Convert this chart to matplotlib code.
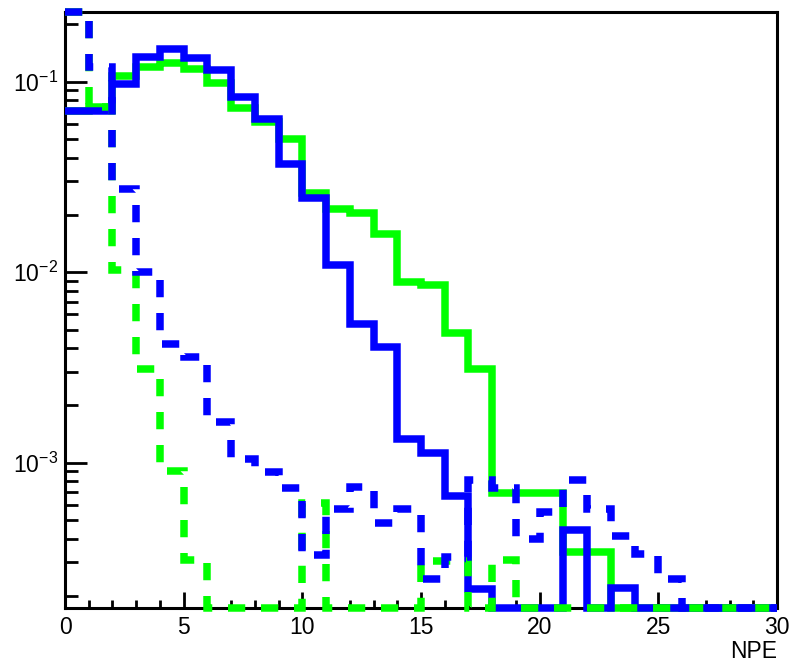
import numpy as np
import matplotlib
matplotlib.use('Agg')
import matplotlib.pyplot as plt
from matplotlib.ticker import LogLocator, MultipleLocator, NullFormatter

# bin edges, 1 NPE per bin
edges = np.arange(0, 31)

# values (0 = empty bin)
green_full = [0.0705, 0.074, 0.107, 0.12, 0.125, 0.117, 0.099, 0.073, 0.0615, 0.0502,
              0.0262, 0.0215, 0.0204, 0.0158, 0.0089, 0.0086, 0.0048, 0.0031, 0.00069, 0.00069,
              0.00069, 0.00034, 0.00034, 0, 0, 0, 0, 0, 0, 0]
blue_full = [0.0705, 0.0705, 0.0976, 0.135, 0.149, 0.134, 0.115, 0.083, 0.064, 0.0372,
             0.0245, 0.0109, 0.00534, 0.00407, 0.00133, 0.00112, 0.000668, 0.000218, 0, 0,
             0, 0.000443, 0, 0.000221, 0, 0, 0, 0, 0, 0]
green_dash = [0.233, 0.074, 0.0103, 0.0031, 0.00091, 0.00031, 0, 0, 0, 0,
              0.000614, 0, 0, 0, 0, 0.000305, 0.000305, 0, 0.00031, 0,
              0, 0, 0, 0, 0, 0, 0, 0, 0, 0]
blue_dash = [0.233, 0.12, 0.0274, 0.0100, 0.0042, 0.00360, 0.00163, 0.00105, 0.000895, 0.000734,
             0.000327, 0.00057, 0.000745, 0.000483, 0.00057, 0.000245, 0.00032, 0.00081, 0.00074, 0.0004,
             0.00055, 0.00081, 0.00057, 0.00041, 0.00033, 0.000245, 0, 0, 0, 0]

YMIN, YMAX = 1.727e-4, 0.2331

plt.rcParams['font.family'] = 'Liberation Sans'
plt.rcParams['mathtext.fontset'] = 'custom'
plt.rcParams['mathtext.rm'] = 'Liberation Sans'
plt.rcParams['mathtext.it'] = 'Liberation Sans:italic'
plt.rcParams['mathtext.bf'] = 'Liberation Sans:bold'

fig = plt.figure(figsize=(7.89, 6.65), dpi=100)
ax = fig.add_axes([0.0824, 0.0857, 0.9024, 0.8967])

lw = 5.4
dash = (0, (2.3, 2.1))
fs = 16.5


def draw(vals, color, ls, z):
    v = np.array(vals, float)
    # empty bins sit on the frame, like ROOT does on a log axis
    v = np.where(v > 0, v, YMIN)
    ax.stairs(v, edges, baseline=None, color=color, linewidth=lw, linestyle=ls,
              joinstyle='miter', clip_on=False, zorder=z)


draw(green_full, '#00ff00', '-', 3)
draw(blue_full, '#0000ff', '-', 4)
draw(green_dash, '#00ff00', dash, 5)
draw(blue_dash, '#0000ff', dash, 6)

ax.set_xlim(0, 30)
ax.set_yscale('log')
ax.set_ylim(YMIN, YMAX)

ax.xaxis.set_major_locator(MultipleLocator(5))
ax.xaxis.set_minor_locator(MultipleLocator(1))
ax.yaxis.set_major_locator(LogLocator(base=10, numticks=10))
ax.yaxis.set_minor_locator(LogLocator(base=10, subs=np.arange(2, 10), numticks=20))
ax.yaxis.set_minor_formatter(NullFormatter())

ax.tick_params(axis='both', which='both', direction='in', top=False, right=False,
               width=2, labelsize=fs)
ax.tick_params(axis='x', which='major', length=11.5, pad=5.5)
ax.tick_params(axis='x', which='minor', length=5.8)
ax.tick_params(axis='y', which='major', length=16, pad=5)
ax.tick_params(axis='y', which='minor', length=9)

for s in ax.spines.values():
    s.set_linewidth(2.2)

ax.set_xlabel('NPE', loc='right', fontsize=fs, labelpad=1)

fig.savefig('out.png', dpi=100)
